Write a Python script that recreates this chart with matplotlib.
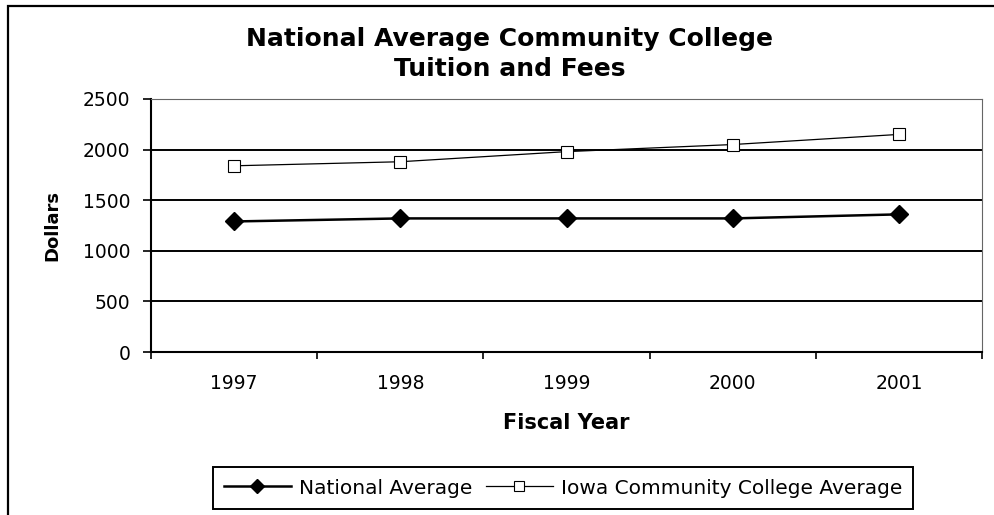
import matplotlib
matplotlib.use("Agg")
import matplotlib.pyplot as plt
from matplotlib.patches import Rectangle

plt.rcParams['font.family'] = ['DejaVu Sans']

years = ['1997', '1998', '1999', '2000', '2001']
national = [1290, 1320, 1320, 1320, 1360]
iowa = [1840, 1880, 1980, 2050, 2150]
yticks = [0, 500, 1000, 1500, 2000, 2500]

fig = plt.figure(figsize=(9.95, 5.15), dpi=100)

# outer chart border (only left and top visible in the crop)
fig.patches.append(Rectangle((8/995, -0.1), 1.2, 1 - 6/515 + 0.1,
                             transform=fig.transFigure, fill=False,
                             edgecolor='black', linewidth=1.6))

ax = fig.add_axes([151/995, 1 - 352/515, (982 - 151)/995, (352 - 99)/515])
x = list(range(len(years)))

ax.plot(x, iowa, color='black', linewidth=0.9, marker='s', markersize=8,
        markerfacecolor='white', markeredgecolor='black', markeredgewidth=0.8,
        label='Iowa Community College Average', zorder=3)
ax.plot(x, national, color='black', linewidth=1.8, marker='D', markersize=9,
        markerfacecolor='black', label='National Average', zorder=4)

ax.set_xlim(-0.5, len(years) - 0.5)
ax.set_ylim(0, 2500)
ax.set_yticks(yticks)
ax.set_yticklabels([str(v) for v in yticks], fontsize=13.5)
ax.yaxis.grid(True, color='black', linewidth=1.4)
ax.set_axisbelow(True)

ax.set_xticks(x)
ax.set_xticklabels(years, fontsize=13.5)
ax.tick_params(axis='x', length=0, pad=16)
ax.set_xticks([i - 0.5 for i in range(len(years) + 1)], minor=True)
ax.tick_params(axis='x', which='minor', length=5, width=1.2, direction='out')
ax.tick_params(axis='y', length=6, width=1.2, direction='out', pad=9)

for side in ['top', 'right']:
    ax.spines[side].set_color('#666666')
    ax.spines[side].set_linewidth(0.8)
for side in ['left', 'bottom']:
    ax.spines[side].set_linewidth(1.5)

ax.set_xlabel('Fiscal Year', fontsize=15, fontweight='bold', labelpad=14)
ax.set_ylabel('Dollars', fontsize=13, fontweight='bold', labelpad=15)

fig.text(510/995, 1 - 54/515, 'National Average Community College\nTuition and Fees',
         ha='center', va='center', fontsize=18, fontweight='bold', linespacing=1.35)

handles, labels = ax.get_legend_handles_labels()
leg = fig.legend(handles[::-1], labels[::-1], loc='center',
                 bbox_to_anchor=(563/995, 1 - 488/515), ncol=2, fontsize=14.5,
                 frameon=True, fancybox=False, edgecolor='black', framealpha=1,
                 handlelength=3.3, handletextpad=0.4, columnspacing=0.7,
                 borderpad=0.55, borderaxespad=0)
leg.get_frame().set_linewidth(1.4)
for h in leg.legend_handles:
    h.set_markersize(7)

fig.savefig('out.png', dpi=100)
